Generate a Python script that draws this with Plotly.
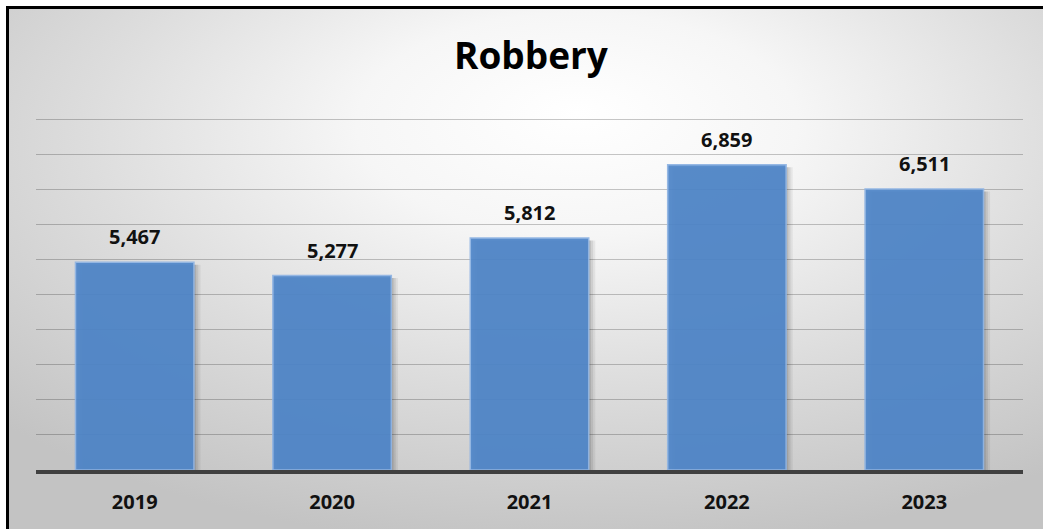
import base64
import plotly.graph_objects as go

# ---- data ----
years = ["2019", "2020", "2021", "2022", "2023"]
robbery = [5467, 5277, 5812, 6859, 6511]
title_text = "Robbery"
y_min, y_max = 2500, 7500
y_tickvals = [2500, 3000, 3500, 4000, 4500, 5000, 5500, 6000, 6500, 7000, 7500]

# ---- geometry (pixels) ----
W, H = 1043, 529
ML, MR, MT, MB = 36, 20, 117, 59
PW, PH = W - ML - MR, H - MT - MB

FONT = "Open Sans"
BAR_W = 0.6

fig = go.Figure()

# soft shadow layers (right/bottom of bars)
for k, alpha in [(3, 0.06), (2, 0.08), (1, 0.10)]:
    fig.add_trace(go.Bar(
        x=years, y=[v - y_min - 35 for v in robbery], base=y_min,
        width=BAR_W, offset=-BAR_W / 2 + k * 2.2 / (PW / len(years)),
        marker=dict(color=f"rgba(0,0,0,{alpha})", line=dict(width=0)),
        hoverinfo="skip", showlegend=False,
    ))

fig.add_trace(go.Bar(
    x=years, y=[v - y_min for v in robbery], base=y_min,
    width=BAR_W, offset=-BAR_W / 2,
    marker=dict(color="#4f86c9", opacity=0.93,
                line=dict(color="#8fb4e3", width=1.5)),
    showlegend=False, name="Robbery",
))

# data labels (x by category index to avoid numeric-string ambiguity)
for i, v in enumerate(robbery):
    fig.add_annotation(
        x=i, y=v, xref="x", yref="y", text=f"{v:,}", showarrow=False,
        yanchor="bottom", yshift=10,
        font=dict(family=FONT, size=20, color="#111111", weight="bold"),
    )

# paper coordinate conversions
def px_x(px):
    return (px - ML) / PW

def px_y(py):
    return 1 - (py - MT) / PH

# title
fig.add_annotation(
    x=px_x(531), y=px_y(54), xref="paper", yref="paper", text=title_text,
    showarrow=False, xanchor="center", yanchor="middle",
    font=dict(family=FONT, size=37, color="#000000", weight="bold"),
)

# radial gradient background as svg image
svg = f'''<svg xmlns="http://www.w3.org/2000/svg" width="{W}" height="{H}" viewBox="0 0 {W} {H}" preserveAspectRatio="none">
<defs><radialGradient id="g" cx="0.55" cy="0.28" r="0.76" fx="0.55" fy="0.2">
<stop offset="0" stop-color="#ffffff"/>
<stop offset="0.28" stop-color="#f6f6f6"/>
<stop offset="0.62" stop-color="#dddddd"/>
<stop offset="1" stop-color="#c3c3c3"/>
</radialGradient></defs>
<rect x="0" y="0" width="{W}" height="{H}" fill="url(#g)"/>
</svg>'''
src = "data:image/svg+xml;base64," + base64.b64encode(svg.encode()).decode()

fig.add_layout_image(dict(
    source=src, xref="paper", yref="paper",
    x=px_x(8), y=px_y(8), sizex=(W - 8) / PW, sizey=(H - 8) / PH,
    xanchor="left", yanchor="top", sizing="stretch", layer="below",
))

# chart border (left and top only visible)
fig.add_shape(type="line", xref="paper", yref="paper",
              x0=px_x(7.5), x1=px_x(7.5), y0=px_y(H + 5), y1=px_y(6),
              line=dict(color="#000000", width=3))
fig.add_shape(type="line", xref="paper", yref="paper",
              x0=px_x(6), x1=px_x(W + 5), y0=px_y(7.5), y1=px_y(7.5),
              line=dict(color="#000000", width=3))

fig.update_layout(
    width=W, height=H,
    margin=dict(l=ML, r=MR, t=MT, b=MB, pad=0, autoexpand=False),
    paper_bgcolor="#ffffff", plot_bgcolor="rgba(0,0,0,0)",
    barmode="overlay", bargap=0.4,
    xaxis=dict(
        type="category", range=[-0.5, len(years) - 0.5],
        showgrid=False, showline=True,
        linecolor="#404040", linewidth=4, ticks="",
        tickfont=dict(family=FONT, size=20, color="#111111", weight="bold"),
        ticklabelstandoff=11, fixedrange=True, automargin=False,
    ),
    yaxis=dict(
        range=[y_min, y_max + 40], tickvals=y_tickvals, showticklabels=False,
        showgrid=True, gridcolor="rgba(0,0,0,0.22)", gridwidth=1,
        zeroline=False, showline=False, fixedrange=True, automargin=False,
    ),
    showlegend=False,
)

fig.write_html("out.html", config={"displayModeBar": False},
               post_script="document.body.style.margin='0';")
